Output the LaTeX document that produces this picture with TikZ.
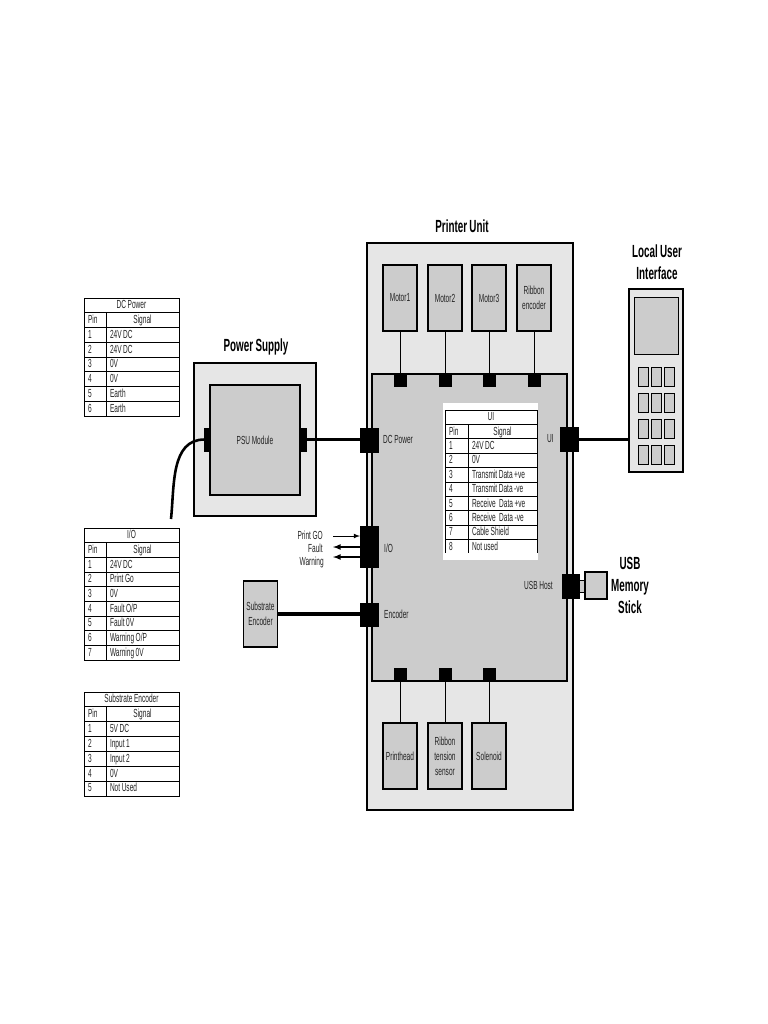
\documentclass[tikz,border=0pt]{standalone}
\usepackage{fontspec}
\setmainfont[FakeStretch=0.56,WordSpace=0.85]{Liberation Sans}
\usetikzlibrary{arrows}
\definecolor{Panel}{RGB}{230,230,230}
\definecolor{Module}{RGB}{204,204,204}
\definecolor{Ink}{RGB}{35,35,35}
\newcommand{\pinrow}{0.03cm}
\tikzset{
  txt/.style={text=Ink,inner sep=0pt,align=center,font=\fontsize{10}{12.8}\selectfont},
  title/.style={text=black,inner sep=0pt,align=center,font=\fontsize{15}{18.8}\selectfont\bfseries},
  panel/.style={draw=black,line width=0.95pt,fill=Panel,inner sep=0pt,outer sep=0pt,minimum width=#1},
  module/.style={draw=black,line width=0.9pt,fill=Module,inner sep=0pt,outer sep=0pt,text=Ink,align=center,font=\fontsize{10}{12.8}\selectfont,minimum width=34*\pinrow,minimum height=66*\pinrow},
  port/.style={draw=black,fill=black,inner sep=0pt,outer sep=0pt,minimum width=12*\pinrow,minimum height=12*\pinrow},
  key/.style={draw=black,line width=0.85pt,fill=Module,inner sep=0pt,minimum width=10*\pinrow,minimum height=19*\pinrow},
  cell/.style={draw=black,line width=0.7pt,inner sep=0pt,outer sep=0pt,text=Ink,font=\fontsize{10}{10}\selectfont,text height=6.8pt,text depth=1pt},
  cable/.style={line width=3.3pt,draw=black},
  wire/.style={line width=0.8pt,draw=black},
}
% pin table: name, left x, column x, right x, top y, row height, title, rows
\newcommand{\pintable}[8]{
  \node[cell,minimum width={(#4-#2)*\pinrow},minimum height=#6*\pinrow] (#1 head) at ({(#2+#4)/2},#5+#6/2) {#7};
  \node[cell,minimum width={(#3-#2)*\pinrow},minimum height=#6*\pinrow,text width={(#3-#2-8)*\pinrow},align=flush left] (#1 pin) at ({(#2+#3)/2},#5+#6*1.5) {Pin};
  \node[cell,minimum width={(#4-#3)*\pinrow},minimum height=#6*\pinrow] (#1 signal) at ({(#3+#4)/2},#5+#6*1.5) {Signal};
  \foreach \n/\s [count=\r from 2] in {#8} {
    \node[cell,anchor=center,minimum width={(#3-#2)*\pinrow},minimum height=#6*\pinrow,text width={(#3-#2-8)*\pinrow},align=flush left] (#1 pin \n) at ({(#2+#3)/2},#5+#6*\r+#6/2) {\n};
    \node[cell,anchor=center,minimum width={(#4-#3)*\pinrow},minimum height=#6*\pinrow,text width={(#4-#3-8)*\pinrow},align=flush left] (#1 signal \n) at ({(#3+#4)/2},#5+#6*\r+#6/2) {\s};
  }
}

\begin{document}
\begin{tikzpicture}[x=0.03cm,y=-0.03cm]
\useasboundingbox (0,0) rectangle (768,1024);

% pin tables
\pintable{dc}{84}{106}{179}{298}{14.75}{DC Power}{1/24V DC,2/24V DC,3/0V,4/0V,5/Earth,6/Earth}
\pintable{io}{84}{106}{179}{528}{14.67}{I/O}{1/24V DC,2/Print Go,3/0V,4/{Fault O/P},5/Fault 0V,6/{Warning O/P},7/Warning 0V}
\pintable{enc}{84}{106}{179}{692}{14.86}{Substrate Encoder}{1/5V DC,2/Input 1,3/Input 2,4/0V,5/Not Used}

% power supply
\node[title] (psu title) at (256,347) {Power Supply};
\node[panel=122*\pinrow,minimum height=153*\pinrow] (psu) at (255,439.5) {};
\node[module,minimum width=90*\pinrow,minimum height=110*\pinrow] (psu module) at (255,440) {PSU Module};
\node[port,minimum width=6*\pinrow,minimum height=23*\pinrow] (psu in) at (207.5,439.5) {};
\node[port,minimum width=6*\pinrow,minimum height=23*\pinrow] (psu out) at (303,439.5) {};

% printer unit
\node[title] (unit title) at (462,226) {Printer Unit};
\node[panel=206*\pinrow,minimum height=567*\pinrow] (unit) at (470,526.5) {};
\node[module,minimum width=195*\pinrow,minimum height=307*\pinrow] (board) at (469.5,527.5) {};

\node[module] (motor1) at (400,298) {Motor1};
\node[module] (motor2) at (445,298) {Motor2};
\node[module] (motor3) at (489,298) {Motor3};
\node[module] (ribbon) at (534,298) {Ribbon\\encoder};
\node[module] (head) at (400,756) {Printhead};
\node[module] (tension) at (445,756) {Ribbon\\tension\\sensor};
\node[module] (solenoid) at (489,756) {Solenoid};

\node[port] (motor1 port) at (400,380) {};
\node[port] (motor2 port) at (445,380) {};
\node[port] (motor3 port) at (489,380) {};
\node[port] (ribbon port) at (534,380) {};
\node[port] (head port) at (400,674) {};
\node[port] (tension port) at (445,674) {};
\node[port] (solenoid port) at (489,674) {};

\node[port,minimum width=18*\pinrow,minimum height=24*\pinrow] (dc port) at (369,440) {};
\node[port,minimum width=18*\pinrow,minimum height=41*\pinrow] (io port) at (369,546.5) {};
\node[port,minimum width=18*\pinrow,minimum height=23*\pinrow] (enc port) at (369,614.5) {};
\node[port,minimum width=18*\pinrow,minimum height=24*\pinrow] (ui port) at (569,439.5) {};
\node[port,minimum width=17*\pinrow,minimum height=24*\pinrow] (usb port) at (570.5,586) {};

\node[txt,anchor=west] (dc label) at (383,439) {DC Power};
\node[txt,anchor=west] (io label) at (384,548) {I/O};
\node[txt,anchor=west] (enc label) at (384,614) {Encoder};
\node[txt,anchor=east] (ui label) at (554,439) {UI};
\node[txt,anchor=east] (usb label) at (553,585) {USB Host};

% UI pin table on its white panel
\node[fill=white,inner sep=0pt,minimum width=95*\pinrow,minimum height=157*\pinrow] (ui back) at (490.5,481.5) {};
\pintable{ui}{445}{468}{537}{410}{14.4}{UI}{1/24V DC,2/0V,3/Transmit Data +ve,4/Transmit Data -ve,5/Receive\, Data +ve,6/Receive\, Data -ve,7/Cable Shield,8/Not used}
\node[fill=white,inner sep=0pt,minimum width=95*\pinrow,minimum height=7*\pinrow] (ui back end) at (490.5,556.5) {};

% local user interface
\node[title] (lui title) at (657,262) {Local User\\Interface};
\node[panel=54*\pinrow,minimum height=183*\pinrow] (lui) at (656,380.5) {};
\node[draw=black,line width=0.85pt,fill=Module,inner sep=0pt,minimum width=44*\pinrow,minimum height=57*\pinrow] (screen) at (656,325.5) {};
\foreach \k/\y in {1/376.5,2/403,3/429,4/455} {
  \node[key] (key a\k) at (643,\y) {};
  \node[key] (key b\k) at (656,\y) {};
  \node[key] (key c\k) at (669,\y) {};
}

% usb stick
\node[draw=black,line width=0.7pt,fill=Module,inner sep=0pt,outer sep=0pt,minimum width=6*\pinrow,minimum height=12*\pinrow] (usb plug) at (582,586) {};
\node[draw=black,line width=0.9pt,fill=Module,inner sep=0pt,outer sep=0pt,minimum width=22*\pinrow,minimum height=27*\pinrow] (usb stick) at (596,585.5) {};
\node[title] (usb title) at (630,585) {USB\\Memory\\Stick};

% substrate encoder
\node[module,minimum height=66*\pinrow] (encoder) at (260.5,614) {Substrate\\Encoder};

% io signals
\node[txt,anchor=east] (go label) at (323,535) {Print GO};
\node[txt,anchor=east] (fault label) at (323,548) {Fault};
\node[txt,anchor=east] (warn label) at (324,562) {Warning};
\coordinate (go end) at (333,536);
\coordinate (fault end) at (333,547);
\coordinate (warn end) at (333,557);

\draw[->,>=latex,wire] (go end) to (go end -| io port.west);
\draw[<-,>=latex,wire,line width=1.2pt] (fault end) to (fault end -| io port.west);
\draw[<-,>=latex,wire,line width=1.2pt] (warn end) to (warn end -| io port.west);

\draw[wire] (motor1.south) to (motor1 port.north);
\draw[wire] (motor2.south) to (motor2 port.north);
\draw[wire] (motor3.south) to (motor3 port.north);
\draw[wire] (ribbon.south) to (ribbon port.north);
\draw[wire] (head.north) to (head port.south);
\draw[wire] (tension.north) to (tension port.south);
\draw[wire] (solenoid.north) to (solenoid port.south);

\draw[cable] (psu out.east) to (psu out.east -| dc port.west);
\draw[cable] (ui port.east) to (ui port.east -| lui.west);
\draw[cable,line width=4pt] (encoder.east) to (encoder.east -| enc port.west);

\coordinate (mains end) at (171,519);
\draw[cable,line width=2.2pt] (psu in.west) to[out=180,in=84] (mains end);

\end{tikzpicture}
\end{document}
